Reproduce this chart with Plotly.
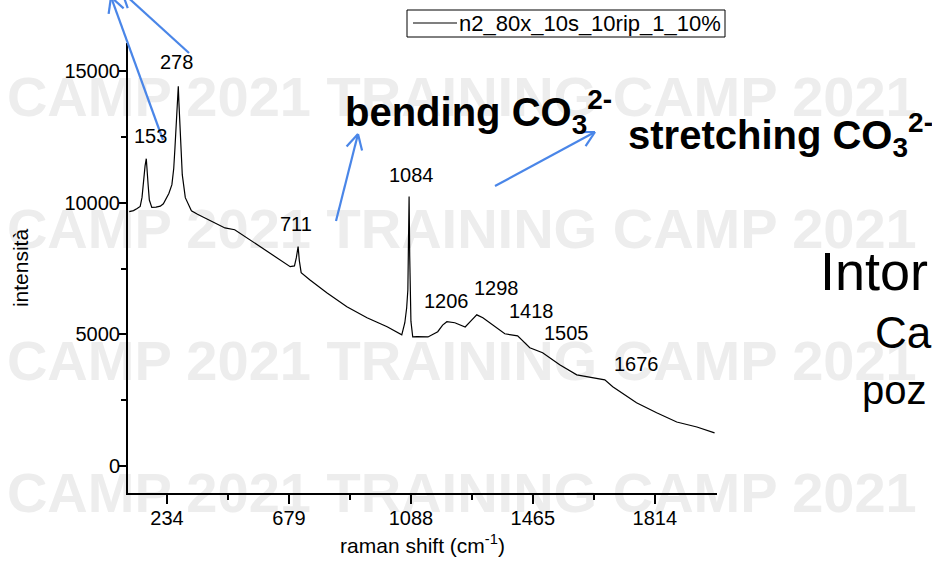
import math
import plotly.graph_objects as go

W, H = 932, 563
FONT = "Liberation Sans, Arial, sans-serif"

# ---------------- data ----------------
# spectrum: detector channel (x axis units) vs intensity
channel = [138, 145, 151, 156, 159, 161, 164, 166, 167.5, 169, 171, 175, 182, 189, 194, 197,
           203, 208, 211, 213, 215.5, 217, 218.5, 219.5, 221, 223, 225, 230, 240, 250, 262,
           272, 284, 295, 311, 336, 357, 380, 402, 409, 412, 415, 417, 420, 434, 462, 495,
           528, 561, 585, 590, 593, 595, 596, 597, 598, 600, 603, 610, 628, 644, 652, 659,
           672, 689, 700, 708, 718, 738, 754, 775, 795, 816, 844, 872, 898, 918, 931, 950,
           970, 1003, 1036, 1069, 1098]
intensity = [9660, 9700, 9780, 9860, 10200, 10810, 11400, 11670, 11300, 10680, 10100, 9820,
             9830, 9870, 9960, 10075, 10350, 10684, 11300, 12080, 13000, 13600, 14420, 13800,
             12965, 11900, 11064, 10190, 9695, 9560, 9417, 9300, 9163, 9040, 8973, 8590, 8290,
             7910, 7570, 7600, 7900, 8330, 7800, 7340, 7070, 6580, 6050, 5630, 5290, 4980,
             5440, 6000, 6690, 8500, 10230, 8000, 5500, 4900, 4910, 4900, 5100, 5350, 5480,
             5440, 5280, 5550, 5740, 5630, 5280, 5020, 4940, 4490, 4300, 3840, 3460, 3350,
             3270, 3010, 2720, 2400, 2020, 1670, 1480, 1255]
series_name = "n2_80x_10s_10rip_1_10%"

x_tick_channels = [200, 400, 600, 800, 1000]
x_tick_labels = ["234", "679", "1088", "1465", "1814"]
x_minor_channels = [300, 500, 700, 900]
y_tick_values = [0, 5000, 10000, 15000]

peak_labels = ["153", "278", "711", "1084", "1206", "1298", "1418", "1505", "1676"]

watermark_text = "CAMP 2021 TRAINING CAMP 2021 TRAINING"


def P(px, py):
    return px / W, 1 - py / H


fig = go.Figure()

# watermark on a full-page background subplot (drawn below the spectrum)
wm_rows = [102, 234, 366, 498]
fig.add_trace(go.Scatter(
    x=[-3] * len(wm_rows), y=wm_rows, mode="text",
    text=["<b>" + watermark_text + "</b>"] * len(wm_rows),
    textposition="middle right",
    textfont=dict(family="Liberation Sans Narrow, Arial Narrow, Liberation Sans", size=56,
                  color="#ededed"),
    xaxis="x", yaxis="y", showlegend=False, hoverinfo="skip", cliponaxis=False))

fig.add_trace(go.Scatter(
    x=channel, y=intensity, mode="lines", name=series_name, showlegend=False,
    line=dict(color="black", width=1.2), xaxis="x2", yaxis="y2"))

axis_common = dict(showline=True, linecolor="black", linewidth=2, ticks="outside",
                   tickcolor="black", tickwidth=1.5, showgrid=False, zeroline=False,
                   tickfont=dict(family=FONT, size=20, color="black"))

fig.update_layout(
    width=W, height=H, margin=dict(l=0, r=0, t=0, b=0),
    paper_bgcolor="white", plot_bgcolor="rgba(0,0,0,0)",
    xaxis=dict(domain=[0, 1], range=[-10, W], visible=False, fixedrange=True),
    yaxis=dict(domain=[0, 1], range=[H, 0], visible=False, fixedrange=True),
    xaxis2=dict(domain=[128 / W, 717 / W], range=[136, 1102], anchor="y2",
                tickmode="array", tickvals=x_tick_channels, ticktext=x_tick_labels,
                ticklen=9, ticklabelstandoff=-3,
                minor=dict(tickmode="array", tickvals=x_minor_channels, ticks="outside",
                           ticklen=5, tickcolor="black", tickwidth=1.5),
                title=dict(text="raman shift (cm<sup>-1</sup>)",
                           font=dict(family=FONT, size=21, color="black"), standoff=10),
                **axis_common),
    yaxis2=dict(domain=[1 - 493 / H, 1 - 43 / H], range=[-1027, 16065], anchor="x2",
                tickmode="array", tickvals=y_tick_values, tickformat="d", ticklen=7,
                ticklabelstandoff=-5,
                minor=dict(dtick=2500, tick0=0, ticks="outside", ticklen=5,
                           tickcolor="black", tickwidth=1.5),
                title=dict(text="intensità", font=dict(family=FONT, size=21, color="black"),
                           standoff=30),
                **axis_common),
    showlegend=False,
)

annotations = []
shapes = []

# legend box (drawn by hand to match the original compact box)
shapes.append(dict(type="rect", xref="paper", yref="paper",
                   x0=407 / W, y0=1 - 10 / H, x1=725 / W, y1=1 - 37 / H,
                   line=dict(color="black", width=1), fillcolor="white", layer="above"))
shapes.append(dict(type="line", xref="paper", yref="paper",
                   x0=413 / W, y0=1 - 23 / H, x1=457 / W, y1=1 - 23 / H,
                   line=dict(color="black", width=1.2)))
lx, ly = P(457, 23.5)
annotations.append(dict(x=lx, y=ly, xref="paper", yref="paper", text=series_name,
                        showarrow=False, xanchor="left", yanchor="middle",
                        font=dict(family=FONT, size=22, color="black")))

# peak labels (pixel centres on the slide)
peak_pos = [(150, 136), (176, 62), (296, 224), (411, 175), (446, 301), (497, 288),
            (531, 311), (566, 333), (636, 364)]
for txt, (px, py) in zip(peak_labels, peak_pos):
    x, y = P(px, py)
    annotations.append(dict(x=x, y=y, xref="paper", yref="paper", text=txt,
                            showarrow=False, xanchor="center", yanchor="middle",
                            font=dict(family=FONT, size=20, color="black")))

big = [("<b>bending CO<sub>3</sub><sup>2-</sup></b>", 343, 112, 40),
       ("<b>stretching CO<sub>3</sub><sup>2-</sup></b>", 626, 135, 40)]
for txt, px, py, sz in big:
    x, y = P(px, py)
    annotations.append(dict(x=x, y=y, xref="paper", yref="paper", text=txt,
                            showarrow=False, xanchor="left", yanchor="middle",
                            font=dict(family=FONT, size=sz, color="black")))

side = [("Intor", 818, 271, 54), ("Ca", 873, 333, 44), ("poz", 860, 390, 40)]
for txt, px, py, sz in side:
    x, y = P(px, py)
    annotations.append(dict(x=x, y=y, xref="paper", yref="paper", text=txt,
                            showarrow=False, xanchor="left", yanchor="middle",
                            font=dict(family=FONT, size=sz, color="black")))

# blue arrows with open heads
BLUE = "#4a86e8"


def arrow(x0, y0, x1, y1, L=17, ang=28):
    d = math.hypot(x1 - x0, y1 - y0)
    ux, uy = (x0 - x1) / d, (y0 - y1) / d
    out = [dict(type="line", xref="paper", yref="paper",
                x0=x0 / W, y0=1 - y0 / H, x1=x1 / W, y1=1 - y1 / H,
                line=dict(color=BLUE, width=2.2))]
    for s in (1, -1):
        a = math.radians(ang) * s
        vx = ux * math.cos(a) - uy * math.sin(a)
        vy = ux * math.sin(a) + uy * math.cos(a)
        out.append(dict(type="line", xref="paper", yref="paper",
                        x0=x1 / W, y0=1 - y1 / H, x1=(x1 + L * vx) / W, y1=1 - (y1 + L * vy) / H,
                        line=dict(color=BLUE, width=2.2)))
    return out


shapes += arrow(163, 140, 111, -3)
shapes += arrow(189, 53, 122, -8)
shapes += arrow(336, 221, 358, 134)
shapes += arrow(495, 186, 595, 132)

fig.update_layout(annotations=annotations, shapes=shapes)

fig.write_html("out.html", config={"displayModeBar": False})
